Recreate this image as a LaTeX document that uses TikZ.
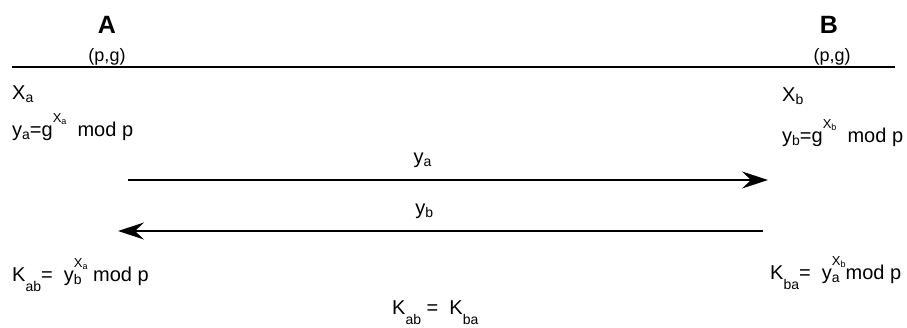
\documentclass[tikz,border=0pt]{standalone}
\usepackage{fontspec}
\setmainfont{Liberation Sans}
\usepackage{tikz}
\usetikzlibrary{positioning, arrows.meta, calc}

% small raised / lowered indices in text
\newcommand{\subx}[2][-0.15em]{\raisebox{#1}{\fontsize{14}{14}\selectfont #2}}
\newcommand{\supx}[1]{\raisebox{0.7em}{\fontsize{13}{13}\selectfont X\raisebox{-0.2em}{\fontsize{9}{9}\selectfont #1}}}

\begin{document}
\begin{tikzpicture}[
        x=1pt, y=-1pt,
        party/.style={
            font=\fontsize{25}{25}\selectfont\bfseries,
            anchor=base,
            inner sep=0pt
        },
        param/.style={
            font=\fontsize{18}{18}\selectfont,
            anchor=base,
            inner sep=0pt
        },
        formula/.style={
            font=\fontsize{20}{20}\selectfont,
            anchor=base west,
            inner sep=0pt
        },
        msg/.style={
            font=\fontsize{20}{20}\selectfont,
            anchor=base,
            inner sep=0pt
        },
        arrow/.style={
            -{Stealth[length=26pt, width=17pt, inset=9pt]},
            line width=1.3pt
        }
    ]

    \useasboundingbox (0,0) rectangle (907,327);

    % --------------------------------------------------------
    % Parties and shared parameters
    % --------------------------------------------------------

    \node[party] (alice) at (107,33) {A};
    \node[party] (bob) at (829,33) {B};

    \node[param] (pgA) at (107,61) {(p,g)};
    \node[param] (pgB) at (832,61) {(p,g)};

    \coordinate (lineLeft) at (12,67);
    \coordinate (lineRight) at (895,67);

    \draw[line width=1.3pt]
        (lineLeft) -- (lineRight);

    % --------------------------------------------------------
    % Secrets and public values
    % --------------------------------------------------------

    \node[formula] (xa) at (12,99) {X\subx{a}};
    \node[formula] (ya) at (12,136)
        {y\subx{a}=g\supx{a}\ \ mod p};

    \node[formula] (xb) at (782,101) {X\subx{b}};
    \node[formula] (yb) at (782,142)
        {y\subx{b}=g\supx{b}\ \ mod p};

    % --------------------------------------------------------
    % Exchange
    % --------------------------------------------------------

    \coordinate (sendLeft) at (128,180);
    \coordinate (sendRight) at (768,180);
    \coordinate (backRight) at (763,231);
    \coordinate (backLeft) at (118,231);

    \draw[arrow]
        (sendLeft)
        -- node[msg, pos=0.46, yshift=17pt] (msgA) {y\subx{a}}
        (sendRight);

    \draw[arrow]
        (backRight)
        -- node[msg, pos=0.525, yshift=17pt] (msgB) {y\subx{b}}
        (backLeft);

    % --------------------------------------------------------
    % Shared keys
    % --------------------------------------------------------

    \node[formula] (kab) at (12,281)
        {K\subx[-0.5em]{ab}=\ \ y\rlap{\subx{b}}\supx{a} mod p};

    \node[formula] (kba) at (770,279)
        {K\subx[-0.5em]{ba}=\ \ y\rlap{\subx{a}}\supx{b}mod p};

    \node[formula] (keq) at (392,314)
        {K\subx[-0.5em]{ab} =\ \ K\subx[-0.5em]{ba}};

\end{tikzpicture}
\end{document}
